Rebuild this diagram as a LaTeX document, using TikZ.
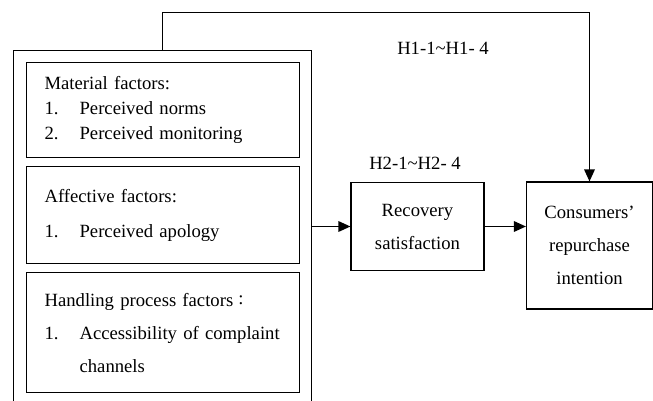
\documentclass[tikz,border=0pt]{standalone}
\usepackage{fontspec}
\setmainfont{Liberation Serif}
\usetikzlibrary{arrows.meta,positioning}
\newcommand{\numitem}[1]{\makebox[26.25pt][l]{#1}}

\begin{document}
\begin{tikzpicture}[x=0.75pt, y=-0.75pt, line width=0.9pt,
  >={Triangle[length=9pt,width=8pt]},
  every node/.append style={font=\fontsize{14}{24.75}\selectfont},
  factorbox/.style={draw, align=left, text width=177.75pt, inner xsep=13.5pt,
    minimum width=204.75pt, anchor=north west},
  mainbox/.style={draw, align=center, inner sep=0pt}]
  \useasboundingbox (0,0) rectangle (653,400);

  \node (frame) [draw, minimum width=223.5pt, minimum height=266.25pt, anchor=north west] at (13,50) {};

  \node (material) [factorbox, minimum height=71.25pt, font=\fontsize{14}{18.75}\selectfont] at (26,62)
    {Material factors:\\ \numitem{1.}Perceived norms\\ \numitem{2.}Perceived monitoring};
  \node (affective) [factorbox, minimum height=72.75pt, font=\fontsize{14}{26.25}\selectfont] at (26,166)
    {Affective factors:\\ \numitem{1.}Perceived apology};
  \node (handling) [factorbox, minimum height=90pt] at (26,272)
    {Handling process factors\;\raisebox{1.5pt}{:}\\ \numitem{1.}Accessibility of complaint\\ \hspace*{26.25pt}channels};

  \node (recovery) [mainbox, minimum width=99.75pt, minimum height=66pt] at (417.5,226.5) {Recovery\\satisfaction};
  \node (intention) [mainbox, minimum width=94.5pt, minimum height=95.25pt] at (589.5,245.5) {Consumers'\\repurchase\\intention};

  \node (hone) at (443,48) {H1-1\textasciitilde H1- 4};
  \node (htwo) at (415,163) {H2-1\textasciitilde H2- 4};

  \draw[->] (frame.north) -- ++(0,-37.5) -| (intention.north);
  \draw[->] (recovery.west -| frame.east) -- (recovery.west);
  \draw[->] (recovery.east) -- (recovery.east -| intention.west);
\end{tikzpicture}
\end{document}
